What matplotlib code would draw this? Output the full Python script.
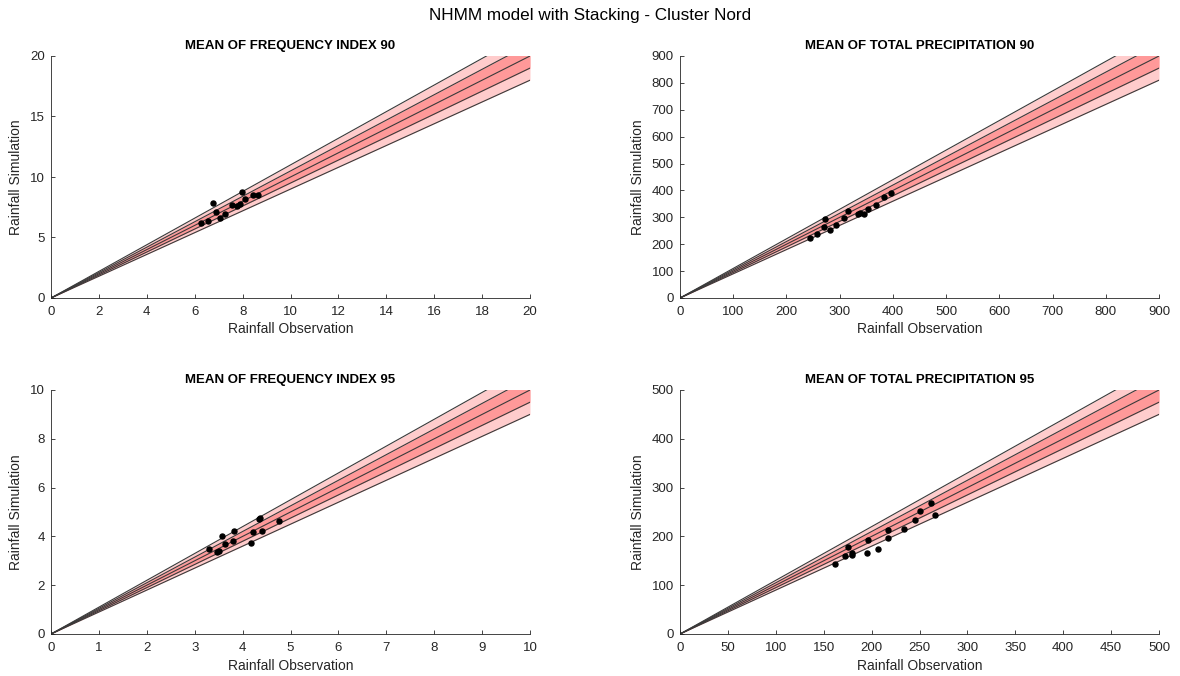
import numpy as np
import matplotlib.pyplot as plt

plt.rcParams['font.family'] = ['Liberation Sans', 'DejaVu Sans']

# observed / simulated values for each panel
freq90_obs = [6.26, 6.56, 6.78, 6.89, 7.07, 7.28, 7.54, 7.77, 7.91, 7.96, 8.10, 8.42, 8.64]
freq90_sim = [6.17, 6.36, 7.88, 7.08, 6.58, 6.97, 7.71, 7.60, 7.79, 8.73, 8.16, 8.49, 8.51]

prec90_obs = [244, 257, 270, 272, 281, 293, 309, 316, 334, 338, 345, 354, 368, 383, 396]
prec90_sim = [224, 238, 263, 293, 254, 271, 299, 322, 312, 317, 314, 332, 347, 376, 390]

freq95_obs = [3.30, 3.46, 3.51, 3.56, 3.63, 3.81, 3.83, 4.18, 4.22, 4.34, 4.36, 4.40, 4.77]
freq95_sim = [3.48, 3.36, 3.39, 4.03, 3.69, 3.81, 4.22, 3.73, 4.19, 4.70, 4.75, 4.23, 4.64]

prec95_obs = [161.8, 172.6, 175.4, 179.2, 179.8, 194.9, 195.9, 207.0, 217.1, 217.1, 233.8, 245.0, 250.5, 261.7, 265.9]
prec95_sim = [143.4, 160.5, 178.3, 161.9, 166.6, 165.3, 192.0, 174.8, 197.4, 213.1, 214.5, 233.0, 251.4, 267.8, 243.9]

titles = ["MEAN OF FREQUENCY INDEX 90", "MEAN OF TOTAL PRECIPITATION 90",
          "MEAN OF FREQUENCY INDEX 95", "MEAN OF TOTAL PRECIPITATION 95"]
limits = [20, 900, 10, 500]
steps = [2, 100, 1, 50]
ytick_steps = [5, 100, 2, 100]
band_outer = 0.10
band_inner = 0.05

panels = [(freq90_obs, freq90_sim), (prec90_obs, prec90_sim),
          (freq95_obs, freq95_sim), (prec95_obs, prec95_sim)]

fig = plt.figure(figsize=(11.8, 6.76), dpi=100)
fig.text(0.5, 0.977, "NHMM model with Stacking - Cluster Nord", ha='center', va='center', fontsize=12.3)

positions = [
    [51 / 1180, 1 - 298 / 676, 479 / 1180, 242 / 676],
    [680 / 1180, 1 - 298 / 676, 479 / 1180, 242 / 676],
    [51 / 1180, 1 - 634 / 676, 479 / 1180, 244 / 676],
    [680 / 1180, 1 - 634 / 676, 479 / 1180, 244 / 676],
]

for i, (obs, sim) in enumerate(panels):
    ax = fig.add_axes(positions[i])
    lim = limits[i]
    x = np.array([0, lim])
    ax.fill_between(x, x * (1 - band_outer), x * (1 + band_outer), color='#ffcccc', lw=0, zorder=1)
    ax.fill_between(x, x * (1 - band_inner), x * (1 + band_inner), color='#ff9999', lw=0, zorder=1)
    for k in [1 - band_outer, 1 - band_inner, 1, 1 + band_inner, 1 + band_outer]:
        ax.plot(x, x * k, color='#3a3a3a', lw=0.8, zorder=2)
    ax.plot(obs, sim, 'o', color='black', ms=3.6, zorder=3)

    ax.set_xlim(0, lim)
    ax.set_ylim(0, lim)
    ax.set_xticks(np.arange(0, lim + steps[i] / 2, steps[i]))
    ax.set_yticks(np.arange(0, lim + ytick_steps[i] / 2, ytick_steps[i]))
    ax.set_title(titles[i], fontsize=9.5, fontweight='bold', pad=5)
    ax.set_xlabel("Rainfall Observation", fontsize=10, labelpad=3, color='#262626')
    ax.set_ylabel("Rainfall Simulation", fontsize=10, labelpad=5, color='#262626')
    ax.spines['top'].set_visible(False)
    ax.spines['right'].set_visible(False)
    for s in ['left', 'bottom']:
        ax.spines[s].set_color('#262626')
        ax.spines[s].set_linewidth(0.6)
    ax.tick_params(direction='in', length=3, width=0.6, labelsize=9.5, colors='#262626')
    ax.tick_params(axis='x', pad=6)
    ax.tick_params(axis='y', pad=4.5)

fig.savefig("out.png", dpi=100)
